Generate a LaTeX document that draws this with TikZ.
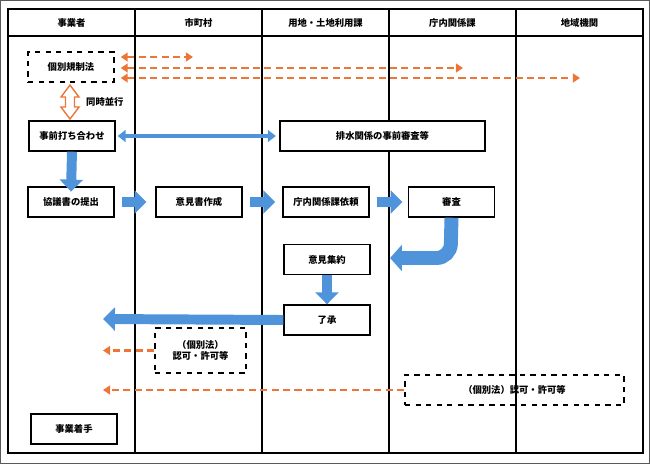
\documentclass[tikz,border=0pt]{standalone}
\usepackage{fontspec}
\setmainfont{Noto Sans CJK JP}
\usetikzlibrary{arrows.meta}
\begin{document}
\begin{tikzpicture}
		[x=0.02cm,y=-0.02cm,line cap=butt,
		%Styles
		every node/.style={font=\fontsize{5.3}{6.5}\selectfont\bfseries},
		stepbox/.style={draw,thick,minimum width=86*0.02cm,minimum height=30*0.02cm,inner sep=0pt},
		lawbox/.style={stepbox,dashed,align=center},
		flow/.style={draw=flowblue,line width=10*0.567pt,-{Triangle[length=12*0.567pt,width=23*0.567pt]}},
		both flow/.style={draw=flowblue,line width=5*0.567pt,{Triangle[length=8*0.567pt,width=12*0.567pt]}-{Triangle[length=8*0.567pt,width=12*0.567pt]}},
		law arrow/.style={draw=laworange,line width=1.3pt,dash pattern=on 4pt off 2.5pt,-{Triangle[length=4pt,width=5pt]}},
		law both/.style={law arrow,{Triangle[length=4pt,width=5pt]}-{Triangle[length=4pt,width=5pt]}}
		]
		
		%Colors
		\definecolor{flowblue}{RGB}{79,148,218}
		\definecolor{laworange}{RGB}{236,118,56}
		
		%Frame and lanes
		\useasboundingbox (0,0) rectangle (650,464);
		\draw[gray!70!black,line width=1pt] (0.5,0.5) rectangle (649.5,463.5);
		\draw[thick] (8,9) rectangle (643,453);
		\draw[thick] (8,36) -- (643,36);
		\foreach \x in {135,262,389,516}
			\draw[semithick] (\x,9) -- (\x,453);
		\node (lane1) at (71.5,22.5) {事業者};
		\node (lane2) at (198.5,22.5) {市町村};
		\node (lane3) at (325.5,22.5) {用地・土地利用課};
		\node (lane4) at (452.5,22.5) {庁内関係課};
		\node (lane5) at (579.5,22.5) {地域機関};
		
		%Boxes
		\node[lawbox] (kobetsu) at (71,67) {個別規制法};
		\node[stepbox,fill=white] (jizen) at (72,136) {事前打ち合わせ};
		\node[stepbox,fill=white,minimum width=205*0.02cm] (haisui) at (382.5,136) {排水関係の事前審査等};
		\node[stepbox] (kyogi) at (71,202) {協議書の提出};
		\node[stepbox] (ikensho) at (199,202) {意見書作成};
		\node[stepbox] (irai) at (326,202) {庁内関係課依頼};
		\node[stepbox] (shinsa) at (451.5,202) {審査};
		\node[stepbox] (shuyaku) at (327,259.5) {意見集約};
		\node[stepbox] (ryosho) at (327,320) {了承};
		\node[lawbox,minimum width=91*0.02cm,minimum height=45*0.02cm] (kyoka1) at (200.5,350.5) {（個別法）\\認可・許可等};
		\node[lawbox,minimum width=219*0.02cm] (kyoka2) at (514.5,390) {（個別法）認可・許可等};
		\node[stepbox] (chakushu) at (74,429) {事業着手};
		
		%Free ends
		\coordinate (end1) at (193,57);
		\coordinate (end2) at (463,68);
		\coordinate (end3) at (580,78);
		\coordinate (start) at (103,319);
		
		%Orange arrows
		\draw[law both] (kobetsu.east |- end1) ++(6,0) -- (end1);
		\draw[law both] (kobetsu.east |- end2) ++(6,0) -- (end2);
		\draw[law both] (kobetsu.east |- end3) ++(6,0) -- (end3);
		\draw[laworange,fill=white,thick] (70,85) -- (79,97) -- (74.5,97) -- (74.5,107) -- (79,107) -- (70,119)
			-- (61,107) -- (65.5,107) -- (65.5,97) -- (61,97) -- cycle;
		\node[right] (heiko) at (80,102) {同時並行};
		\draw[law arrow] (kyoka1.west) -- (start |- kyoka1.west);
		\draw[law arrow] (kyoka2.west) -- (start |- kyoka2.west);
		
		%Blue arrows
		\draw[both flow] (jizen.east) ++(2,0) -- ([xshift=-2]haisui.west);
		\draw[flow] (jizen.south) -- ([yshift=-3]kyogi.north);
		\draw[flow] ([xshift=4]kyogi.east) -- ([xshift=-5]ikensho.west);
		\draw[flow] ([xshift=4]ikensho.east) -- ([xshift=-4]irai.west);
		\draw[flow] ([xshift=4]irai.east) -- ([xshift=-3]shinsa.west);
		\draw[flow,line width=14*0.567pt,rounded corners=14*0.02cm,-{Triangle[length=12*0.567pt,width=26*0.567pt]}]
			(shinsa.south) -- (450.5,258) -- ([xshift=11]shuyaku.east |- 0,258);
		\draw[flow] (shuyaku.south) -- (ryosho.north);
		\draw[flow] (ryosho.west) -- (start);
	\end{tikzpicture}
\end{document}
